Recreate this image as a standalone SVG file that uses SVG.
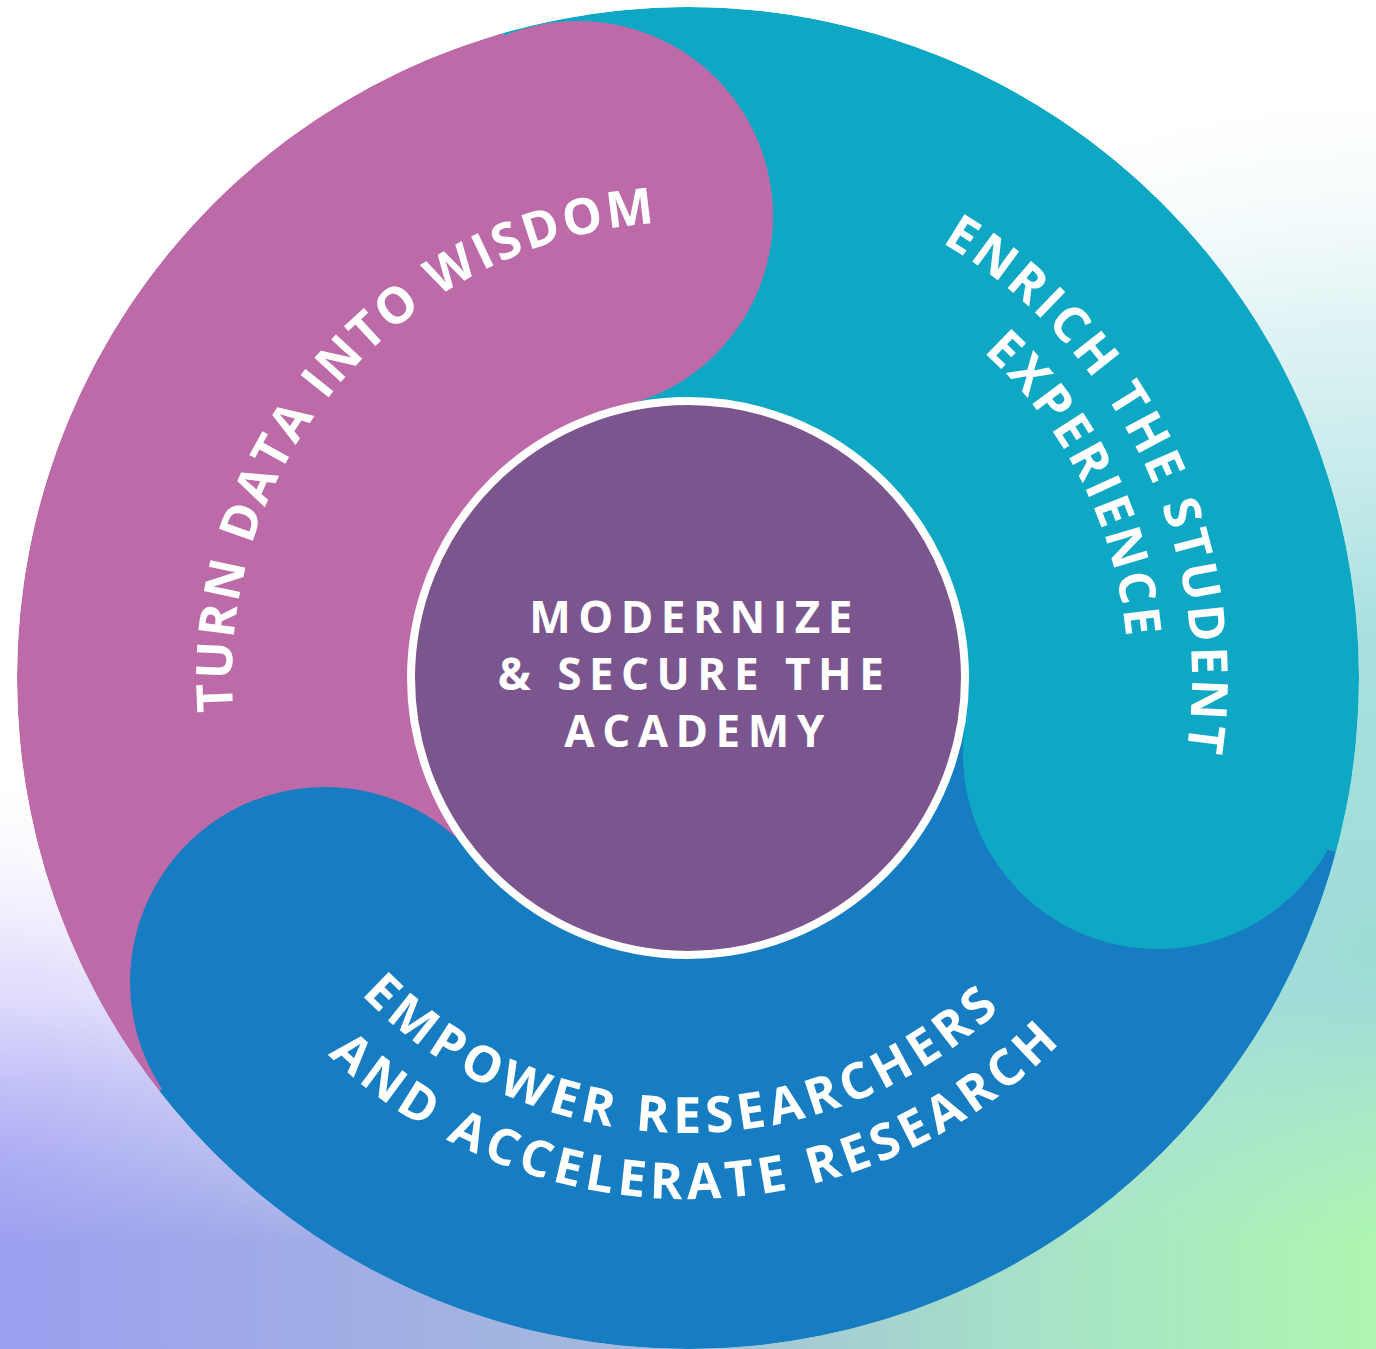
<svg xmlns="http://www.w3.org/2000/svg" width="1376" height="1349" viewBox="0 0 1376 1349">
  <defs>
    <style>
      .lbl { font-family: "Open Sans", "Noto Sans", "DejaVu Sans", sans-serif; font-weight: 700; fill: #ffffff; }
      .arc { font-size: 50px; }
      .mid { font-size: 44px; letter-spacing: 7.5px; }
    </style>
    <linearGradient id="bgH" x1="0" y1="0" x2="1" y2="0">
      <stop offset="0" stop-color="#9d9ff0"/>
      <stop offset="0.45" stop-color="#a3b9dc"/>
      <stop offset="0.75" stop-color="#a6e2c8"/>
      <stop offset="1" stop-color="#aef6b0"/>
    </linearGradient>
    <linearGradient id="fadeV" x1="0" y1="0" x2="0" y2="1">
      <stop offset="0.74" stop-color="#000"/>
      <stop offset="0.92" stop-color="#fff"/>
    </linearGradient>
    <mask id="mBottom">
      <rect width="1376" height="1349" fill="url(#fadeV)"/>
    </mask>
    <radialGradient id="gRight" cx="1376" cy="950" r="900" gradientUnits="userSpaceOnUse">
      <stop offset="0" stop-color="#9edcd6"/>
      <stop offset="0.35" stop-color="#a8e0e0"/>
      <stop offset="0.7" stop-color="#d8f0f2" stop-opacity="0.8"/>
      <stop offset="1" stop-color="#ffffff" stop-opacity="0"/>
    </radialGradient>
    <radialGradient id="gLeft" cx="0" cy="1180" r="420" gradientUnits="userSpaceOnUse">
      <stop offset="0" stop-color="#cbc6fb"/>
      <stop offset="0.5" stop-color="#dcd8fc" stop-opacity="0.8"/>
      <stop offset="1" stop-color="#ffffff" stop-opacity="0"/>
    </radialGradient>
    <clipPath id="disc">
      <circle cx="688" cy="678" r="671"/>
    </clipPath>
    <path id="pTurn" d="M 453.14 1068.87 A 456 456 0 1 1 1042.38 391.03"/>
    <path id="pEnrich" d="M 395.33 267.68 A 504 504 0 1 1 822.69 1163.67"/>
    <path id="pExp" d="M 426.90 323.85 A 440 440 0 1 1 812.23 1100.10"/>
    <path id="pEmp" d="M 241.36 591.18 A 455 455 0 1 0 1137.40 606.82"/>
    <path id="pAnd" d="M 173.13 598.29 A 521 521 0 1 0 1199.08 576.81"/>
  </defs>

  <g id="background">
    <rect width="1376" height="1349" fill="#ffffff"/>
    <rect width="1376" height="1349" fill="url(#gRight)"/>
    <rect width="1376" height="1349" fill="url(#gLeft)"/>
    <rect width="1376" height="1349" fill="url(#bgH)" mask="url(#mBottom)"/>
  </g>

  <g id="ring" clip-path="url(#disc)">
    <g id="bands">
      <path id="band-wisdom" fill="#bc6ba8" d="M 472.78 849.19 L 159.24 1091.11 A 671 671 0 0 1 503.05 32.99 L 626.14 410.05 A 275 275 0 0 0 472.78 849.19 Z"/>
      <path id="band-student" fill="#0fa8c4" d="M 626.14 410.05 L 503.05 32.99 A 671 671 0 0 1 1336.13 851.67 L 959.61 721.02 A 275 275 0 0 0 626.14 410.05 Z"/>
      <path id="band-research" fill="#167dc2" d="M 959.61 721.02 L 1336.13 851.67 A 671 671 0 0 1 159.24 1091.11 L 472.78 849.19 A 275 275 0 0 0 959.61 721.02 Z"/>
    </g>
    <g id="heads">
      <circle id="head-wisdom" cx="578" cy="216" r="195" fill="#bc6ba8"/>
      <circle id="head-student" cx="1158" cy="754" r="195" fill="#0fa8c4"/>
      <circle id="head-research" cx="325" cy="982" r="195" fill="#167dc2"/>
    </g>
  </g>

  <g id="node-modernize">
    <circle cx="688" cy="678" r="277" fill="#7b568e" stroke="#ffffff" stroke-width="8"/>
    <text class="lbl mid" text-anchor="middle">
      <tspan x="704" y="633">MODERNIZE</tspan>
      <tspan x="704" y="690">&amp; SECURE THE</tspan>
      <tspan x="698" y="747">ACADEMY</tspan>
    </text>
  </g>

  <g id="node-turn-data-into-wisdom">
    <text class="lbl arc" text-anchor="middle" style="letter-spacing:3px"><textPath href="#pTurn" startOffset="50%">TURN DATA INTO WISDOM</textPath></text>
  </g>

  <g id="node-enrich-the-student-experience">
    <text class="lbl arc" text-anchor="middle" style="letter-spacing:3.6px"><textPath href="#pEnrich" startOffset="50%">ENRICH THE STUDENT</textPath></text>
    <text class="lbl arc" text-anchor="middle" style="letter-spacing:3.1px"><textPath href="#pExp" startOffset="50%">EXPERIENCE</textPath></text>
  </g>

  <g id="node-empower-researchers">
    <text class="lbl arc" text-anchor="middle" style="letter-spacing:5.4px"><textPath href="#pEmp" startOffset="50%">EMPOWER RESEARCHERS</textPath></text>
    <text class="lbl arc" text-anchor="middle" style="letter-spacing:5.1px"><textPath href="#pAnd" startOffset="50%">AND ACCELERATE RESEARCH</textPath></text>
  </g>
</svg>
